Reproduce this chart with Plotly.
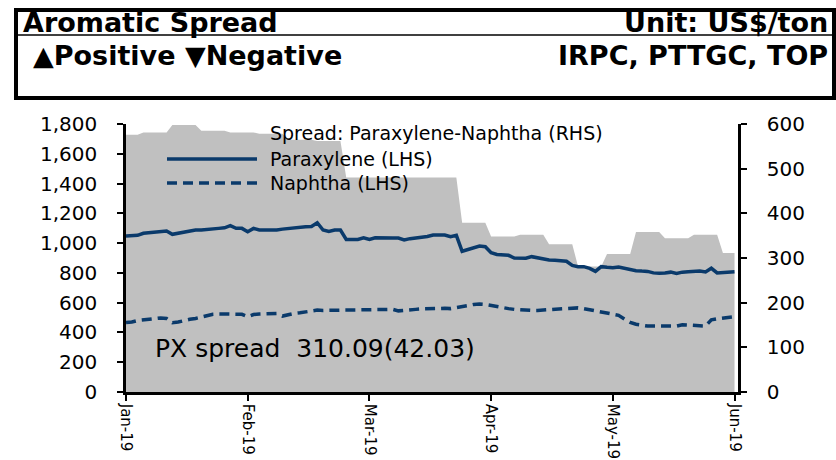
"""Aromatic spread: paraxylene vs naphtha with weekly PX-naphtha spread."""

import plotly.graph_objects as go

# trading-day index on the x axis, month labels every 21 sessions
tick_idx = [0, 21, 42, 63, 84, 105]
tick_text = ['Jan-19', 'Feb-19', 'Mar-19', 'Apr-19', 'May-19', 'Jun-19']

# weekly spread (RHS), first session of each week
week_start = [0, 3, 8, 13, 18, 23, 28, 33, 38, 43, 48, 53, 58, 63, 68, 73,
              78, 83, 88, 93, 98, 103]
spread_wk = [576, 581, 598, 585, 581, 578, 565, 562, 480, 480, 480, 480,
             379, 348, 352, 331, 281, 309, 358, 344, 352, 311]

# daily prices (LHS)
paraxylene = [
    1048, 1048, 1052, 1066, 1070, 1078, 1081, 1081, 1059, 1066,
    1070, 1077, 1088, 1088, 1090, 1095, 1099, 1103, 1117, 1099,
    1099, 1077, 1099, 1088, 1088, 1088, 1088, 1094, 1099, 1104,
    1110, 1110, 1112, 1137, 1088, 1078, 1088, 1088, 1025, 1025,
    1025, 1036, 1025, 1036, 1034, 1034, 1034, 1034, 1022, 1030,
    1034, 1036, 1045, 1054, 1052, 1054, 1043, 1052, 945, 958,
    970, 980, 976, 935, 924, 922, 918, 900, 898, 898,
    909, 900, 892, 887, 885, 883, 878, 850, 842, 842,
    830, 810, 842, 838, 835, 840, 830, 825, 815, 812,
    810, 800, 797, 800, 805, 797, 805, 807, 810, 812,
    806, 831, 800, 803, 805, 808,
]
naphtha = [
    466, 470, 480, 485, 490, 495, 497, 494, 466, 470,
    480, 488, 494, 505, 515, 522, 524, 524, 524, 524,
    522, 506, 520, 524, 524, 526, 528, 510, 520, 528,
    532, 540, 548, 550, 548, 547, 548, 550, 550, 550,
    550, 550, 550, 550, 552, 553, 555, 545, 550, 553,
    555, 558, 560, 562, 562, 562, 560, 565, 572, 580,
    588, 591, 588, 580, 570, 564, 560, 555, 551, 550,
    548, 548, 550, 552, 555, 557, 562, 563, 565, 560,
    552, 547, 540, 528, 522, 515, 490, 468, 455, 448,
    443, 444, 445, 446, 446, 443, 452, 448, 446, 445,
    443, 485, 492, 495, 500, 506,
]

LINE_COLOR = '#0A3A6B'
FONT = 'DejaVu Sans'

# plateau for each week: first and last session
n_days = len(paraxylene)
spread_x, spread_y = [], []
for k, start in enumerate(week_start):
  end = week_start[k + 1] - 1 if k + 1 < len(week_start) else n_days - 1
  spread_x += [start, end]
  spread_y += [spread_wk[k], spread_wk[k]]

days = list(range(n_days))

fig = go.Figure()

# spread sits on the primary (right-hand) axis so the price lines draw on top
fig.add_trace(
    go.Scatter(
        x=spread_x, y=spread_y, yaxis='y', mode='lines',
        line=dict(width=0, color='#C0C0C0'),
        fill='tozeroy', fillcolor='#C0C0C0',
        name='Spread: Paraxylene-Naphtha (RHS)', showlegend=False,
    )
)
fig.add_trace(
    go.Scatter(
        x=days, y=paraxylene, yaxis='y2', mode='lines',
        line=dict(width=3.5, color=LINE_COLOR),
        name='Paraxylene (LHS)', showlegend=False,
    )
)
fig.add_trace(
    go.Scatter(
        x=days, y=naphtha, yaxis='y2', mode='lines',
        line=dict(width=3.5, color=LINE_COLOR, dash='10px,6px'),
        name='Naphtha (LHS)', showlegend=False,
    )
)

# plot area in pixels: x 126..738, y 124..392
L, R, T, B = 126, 738, 124, 392
W, H = R - L, B - T


def px(x):
  return (x - L) / W


def py(y):
  return (B - y) / H


axis_common = dict(
    showline=True, linecolor='black', linewidth=2.5, showgrid=False,
    zeroline=False, ticks='outside', ticklen=6, tickwidth=1.5,
    tickcolor='black', automargin=False,
    tickfont=dict(family=FONT, size=20, color='black'),
)

annotations = [
    # header
    dict(text='Aromatic Spread', x=px(21), y=py(23), xanchor='left',
         font=dict(size=27, weight='bold')),
    dict(text='Unit: US$/ton', x=px(830), y=py(23), xanchor='right',
         font=dict(size=27, weight='bold')),
    dict(text='\u25b2Positive \u25bcNegative', x=px(31), y=py(56),
         xanchor='left', font=dict(size=27, weight='bold')),
    dict(text='IRPC, PTTGC, TOP', x=px(830), y=py(56), xanchor='right',
         font=dict(size=27, weight='bold')),
    # legend
    dict(text='Spread: Paraxylene-Naphtha (RHS)', x=px(268), y=py(133),
         xanchor='left', font=dict(size=19)),
    dict(text='Paraxylene (LHS)', x=px(268), y=py(159), xanchor='left',
         font=dict(size=19)),
    dict(text='Naphtha (LHS)', x=px(268), y=py(183), xanchor='left',
         font=dict(size=19)),
    # latest spread
    dict(text='PX spread  310.09(42.03)', x=px(153), y=py(348),
         xanchor='left', font=dict(size=25)),
]
for a in annotations:
  a.update(xref='paper', yref='paper', yanchor='middle', showarrow=False)
  a['font'].update(family=FONT, color='black')

shapes = [
    dict(type='rect', x0=px(16), x1=px(834), y0=py(98), y1=py(10),
         line=dict(color='black', width=4)),
    dict(type='line', x0=px(16), x1=px(834), y0=py(35), y1=py(35),
         line=dict(color='black', width=1.5)),
    dict(type='line', x0=px(167), x1=px(257), y0=py(159), y1=py(159),
         line=dict(color=LINE_COLOR, width=3.5)),
    dict(type='line', x0=px(167), x1=px(257), y0=py(183), y1=py(183),
         line=dict(color=LINE_COLOR, width=3.5, dash='10px,6px')),
]
for s in shapes:
  s.update(xref='paper', yref='paper')

x_axis = dict(axis_common)
x_axis['tickfont'] = dict(family=FONT, size=15, color='black')

fig.update_layout(
    width=836, height=460,
    margin=dict(l=L, r=836 - R, t=T, b=460 - B),
    paper_bgcolor='white', plot_bgcolor='white',
    showlegend=False,
    xaxis=dict(
        range=[0, 105.6], tickvals=tick_idx, ticktext=tick_text,
        tickangle=90, ticklabelstandoff=0, **x_axis,
    ),
    yaxis=dict(
        side='right', range=[0, 600], tickvals=list(range(0, 601, 100)),
        ticklabelstandoff=16, **axis_common,
    ),
    yaxis2=dict(
        side='left', overlaying='y', range=[0, 1800],
        tickvals=list(range(0, 1801, 200)), tickformat=',d',
        ticklabelstandoff=16, **axis_common,
    ),
    annotations=annotations,
    shapes=shapes,
)

# drop the default page margin so the figure sits at the window corner
fig.write_html(
    'out.html',
    config={'displayModeBar': False},
    post_script="document.body.style.margin='0';"
                "document.body.style.overflow='hidden';",
)
